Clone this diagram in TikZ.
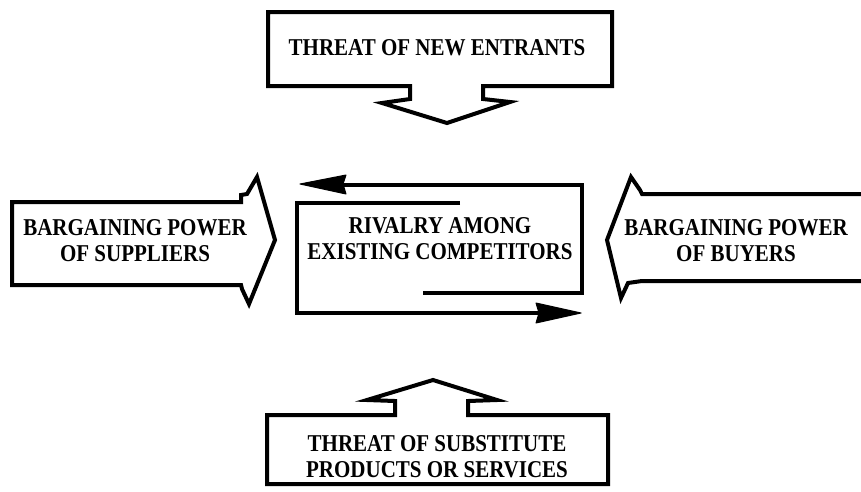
\documentclass[tikz,border=0pt]{standalone}
\usepackage{fontspec}
\setmainfont{Liberation Serif}
\newcommand{\tallbox}[1]{\scalebox{1}[1.15]{\begin{tabular}{@{}c@{}}#1\end{tabular}}}
\begin{document}
\begin{tikzpicture}[x=1pt,y=-1pt,
  shp/.style={draw=black,line width=4pt,line join=miter,fill=white},
  ln/.style={draw=black,line width=4pt},
  tip/.style={fill=black,draw=black,line width=1pt,line join=round},
  lbl/.style={font=\bfseries\fontsize{21}{22.5}\selectfont,align=center,inner sep=0pt}]
\useasboundingbox (0,0) rectangle (861,491);
% top arrow: threat of new entrants
\draw[shp] (268,12) -- (612,12) -- (612,86) -- (483,86) -- (483,99) -- (510,102)
  -- (447,123) -- (382,103) -- (410,99) -- (410,86) -- (268,86) -- cycle;
\node[lbl] (entr) at (437,50) {\tallbox{THREAT OF NEW ENTRANTS}};
% left arrow: suppliers
\draw[shp] (12,202) -- (241,202) -- (241,195) -- (247,194) -- (257,177) -- (275,240)
  -- (249,304) -- (242,289) -- (241,285) -- (12,285) -- cycle;
\node[lbl] (supp) at (135,243) {\tallbox{BARGAINING POWER\\OF SUPPLIERS}};
% right arrow: buyers
\draw[shp] (866,194) -- (642,194) -- (640,190) -- (631,177) -- (607,240) -- (621,298)
  -- (628,283) -- (642,281) -- (866,281);
\node[lbl] (buy) at (736,243) {\tallbox{BARGAINING POWER\\OF BUYERS}};
% bottom arrow: substitutes
\draw[shp] (267,484) -- (267,415) -- (395,415) -- (395,401) -- (367,400) -- (433,380)
  -- (497,400) -- (468,401) -- (468,415) -- (608,415) -- (608,484) -- cycle;
\node[lbl] (subs) at (437,459) {\tallbox{THREAT OF SUBSTITUTE\\PRODUCTS OR SERVICES}};
% centre: rivalry
\coordinate (a0) at (423,293);
\coordinate (a1) at (582,293);
\coordinate (a2) at (582,185);
\coordinate (a3) at (340,185);
\draw[ln] (a0) -- (a1) -- (a2) -- (a3);
\draw[tip] (300,184) -- (346,175) -- (343,184) -- (346,194) -- cycle;
\coordinate (b0) at (460,203);
\coordinate (b1) at (297,203);
\coordinate (b2) at (297,313);
\coordinate (b3) at (542,313);
\draw[ln] (b0) -- (b1) -- (b2) -- (b3);
\draw[tip] (581,313) -- (536,303) -- (539,313) -- (536,323) -- cycle;
\node[lbl] (riv) at (440,241) {\tallbox{RIVALRY AMONG\\EXISTING COMPETITORS}};
\end{tikzpicture}
\end{document}
